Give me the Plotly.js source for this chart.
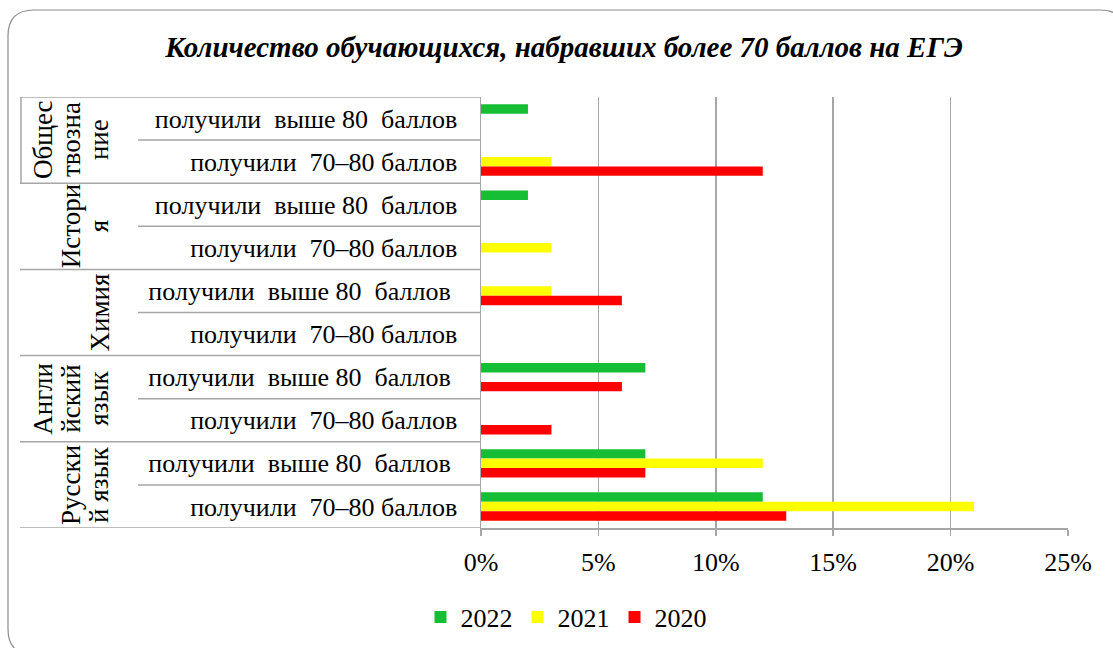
<!DOCTYPE html>
<html>
<head>
<meta charset="utf-8">
<script src="https://cdn.plot.ly/plotly-3.0.1.min.js"></script>
<style>
  html, body { margin: 0; padding: 0; background: #ffffff; }
  #chart { width: 1113px; height: 648px; }
</style>
</head>
<body>
<div id="chart"></div>
<script>
// subjects (top to bottom) and the rotated, wrapped label lines used in the chart
const subjects = ['Обществознание', 'История', 'Химия', 'Английский язык', 'Русский язык'];
const subjectLines = [['Общес', 'твозна', 'ние'], ['Истори', 'я'], ['Химия'], ['Англи', 'йский', 'язык'], ['Русски', 'й язык']];
const levels = ['получили  выше 80  баллов', 'получили  70–80 баллов'];

// values in %, row order: subject x level, top to bottom
const years = ['2022', '2021', '2020'];
const values2022 = [2, null, 2, null, null, null, 7, null, 7, 12];
const values2021 = [null, 3, null, 3, 3, null, null, null, 12, 21];
const values2020 = [null, 12, null, null, 6, null, 6, 3, 7, 13];
const colors = ['#16BE36', '#FFFF00', '#FF0000'];

const rowKeys = [];
const rowText = [];
subjects.forEach((s, i) => levels.forEach((l, j) => {
    rowKeys.push(s + ' / ' + l);
    // the lower three "выше 80" labels carry a trailing space in the original
    const tail = (j === 0 && i >= 2) ? '\u00a0' : '';
    rowText.push(l.replace(/  /g, ' \u00a0') + tail);
}));

// plot box in page pixels
const W = 1113, H = 648;
const L = 481, R = 1068, T = 97, B = 528;
const px = x => (x - L) / (R - L);     // page x -> paper x
const py = y => (B - y) / (B - T);     // page y -> paper y

const FONT = '"Liberation Serif", "Times New Roman", "DejaVu Serif", serif';
const GRAY = '#A6A6A6';

const traces = [values2022, values2021, values2020].map((vals, i) => ({
    type: 'bar',
    orientation: 'h',
    name: years[i],
    y: rowKeys,
    x: vals,
    marker: { color: colors[i] },
    hoverinfo: 'x+name'
}));

const shapes = [];
// divider lines in the label area (at category boundaries)
for (let k = 0; k <= rowKeys.length; k++) {
    const isGroup = k % 2 === 0;
    shapes.push({
        type: 'line', xref: 'paper', yref: 'y',
        x0: px(isGroup ? 20 : 138), x1: 0,
        y0: k - 0.5, y1: k - 0.5,
        line: { color: GRAY, width: 1.5 }
    });
}
// short vertical edge on the left of the first group
shapes.push({
    type: 'line', xref: 'paper', yref: 'y',
    x0: px(21), x1: px(21), y0: -0.5, y1: 1.5,
    line: { color: GRAY, width: 1.5 }
});
// rounded outer frame
const fx0 = 8, fy0 = 10, fx1 = 1126, fy1 = 655, rr = 26;
shapes.push({
    type: 'path', xref: 'paper', yref: 'paper',
    path: `M ${px(fx0)},${py(fy0 + rr)} Q ${px(fx0)},${py(fy0)} ${px(fx0 + rr)},${py(fy0)} ` +
          `L ${px(fx1 - rr)},${py(fy0)} Q ${px(fx1)},${py(fy0)} ${px(fx1)},${py(fy0 + rr)} ` +
          `L ${px(fx1)},${py(fy1 - rr)} Q ${px(fx1)},${py(fy1)} ${px(fx1 - rr)},${py(fy1)} ` +
          `L ${px(fx0 + rr)},${py(fy1)} Q ${px(fx0)},${py(fy1)} ${px(fx0)},${py(fy1 - rr)} Z`,
    line: { color: '#8C8C8C', width: 1.2 }
});

// rotated subject labels, last line sits at x ~ 99
const annotations = [];
subjectLines.forEach((lines, i) => {
    const n = lines.length;
    lines.forEach((t, j) => {
        annotations.push({
            xref: 'paper', yref: 'y',
            x: px(99 - (n - 1 - j) * 28), y: 2 * i + 0.5,
            text: t, textangle: -90, showarrow: false,
            xanchor: 'center', yanchor: 'middle',
            font: { family: FONT, size: 27, color: '#000000' }
        });
    });
});

const layout = {
    width: W, height: H,
    margin: { l: L, r: W - R, t: T, b: H - B, pad: 0 },
    paper_bgcolor: '#ffffff',
    plot_bgcolor: '#ffffff',
    font: { family: FONT, size: 26, color: '#000000' },
    title: {
        text: 'Количество обучающихся, набравших более 70 баллов на ЕГЭ',
        font: { family: FONT, size: 29, weight: 'bold', style: 'italic', color: '#000000' },
        xref: 'container', yref: 'container',
        x: 564 / W, y: 1 - 47 / H, xanchor: 'center', yanchor: 'middle'
    },
    barmode: 'group',
    bargap: 0.34,
    bargroupgap: 0,
    xaxis: {
        range: [0, 25], dtick: 5, ticksuffix: '%',
        showgrid: true, gridcolor: GRAY, gridwidth: 1.5,
        zeroline: false,
        showline: true, linecolor: GRAY, linewidth: 1.5,
        ticks: 'outside', ticklen: 6, tickcolor: GRAY, tickwidth: 1.5,
        ticklabelstandoff: 4,
        tickfont: { family: FONT, size: 26 },
        fixedrange: true
    },
    yaxis: {
        type: 'category',
        categoryorder: 'array', categoryarray: rowKeys,
        tickvals: rowKeys, ticktext: rowText,
        range: [rowKeys.length - 0.5, -0.5],
        showgrid: false, zeroline: false,
        showline: true, linecolor: GRAY, linewidth: 1.5,
        ticks: '', ticklabelstandoff: 17,
        tickfont: { family: FONT, size: 26 },
        fixedrange: true
    },
    legend: {
        orientation: 'h',
        xref: 'container', yref: 'container',
        x: 566 / W, y: 1 - 617 / H, xanchor: 'center', yanchor: 'middle',
        font: { family: FONT, size: 26 },
        itemwidth: 30, tracegroupgap: 0
    },
    shapes: shapes,
    annotations: annotations,
    showlegend: true
};

Plotly.newPlot('chart', traces, layout, { displayModeBar: false, staticPlot: true });
</script>
</body>
</html>
